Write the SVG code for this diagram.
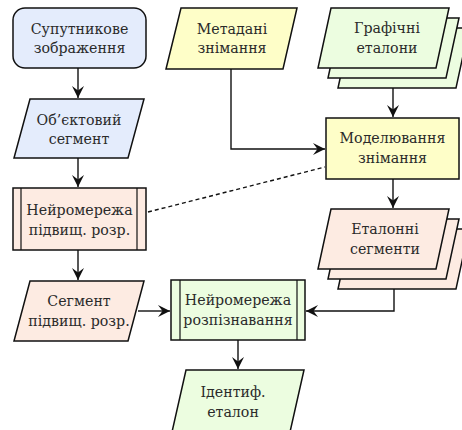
<svg xmlns="http://www.w3.org/2000/svg" width="462" height="430" viewBox="0 0 462 430">
<style>
.n{stroke:#111;stroke-width:1.5;stroke-linejoin:miter}
.blue{fill:#e4ecfc}
.yel{fill:#fefec8}
.grn{fill:#ecfde0}
.pnk{fill:#fdebe2}
text{font-family:'DejaVu Serif',serif;font-size:14.2px;fill:#2a2a2a;text-anchor:middle}
.c{fill:none;stroke:#111;stroke-width:1.4}
.in{stroke-width:1.2}
</style>
<defs>
<marker id="ah" markerUnits="userSpaceOnUse" markerWidth="14" markerHeight="14" refX="12" refY="7" orient="auto">
<path d="M0,1 L12,7 L0,13 L4.5,7 z" fill="#111"/>
</marker>
</defs>
<rect width="462" height="430" fill="#fff"/>

<g id="connectors">
<line class="c" x1="78" y1="68" x2="78" y2="98" marker-end="url(#ah)"/>
<line class="c" x1="78" y1="158" x2="78" y2="187" marker-end="url(#ah)"/>
<line class="c" x1="78" y1="250" x2="78" y2="280" marker-end="url(#ah)"/>
<line class="c" x1="138" y1="311" x2="170" y2="311" marker-end="url(#ah)"/>
<path class="c" d="M231,69 V149 H325" marker-end="url(#ah)"/>
<line class="c" x1="393" y1="88" x2="393" y2="117" marker-end="url(#ah)"/>
<line class="c" x1="393" y1="179" x2="393" y2="208" marker-end="url(#ah)"/>
<path class="c" d="M394,289 V311 H306" marker-end="url(#ah)"/>
<line class="c" x1="238" y1="340" x2="238" y2="369" marker-end="url(#ah)"/>
<line class="c" x1="148" y1="212" x2="325" y2="167" stroke-dasharray="4,3"/>
</g>

<g id="sat">
<rect class="n blue" x="13" y="8" width="133" height="60" rx="12"/>
<text x="79.5" y="34">Супутникове</text>
<text x="79.5" y="53">зображення</text>
</g>

<g id="obj">
<polygon class="n blue" points="30,99 144,99 128,158 14,158"/>
<text x="79" y="125">Об’єктовий</text>
<text x="79" y="144">сегмент</text>
</g>

<g id="nn1">
<rect class="n pnk" x="13" y="188" width="133" height="62"/>
<line class="n in" x1="21" y1="188" x2="21" y2="250" stroke="#6a5a52"/>
<line class="n in" x1="137" y1="188" x2="137" y2="250" stroke="#6a5a52"/>
<text x="79.5" y="215">Нейромережа</text>
<text x="79.5" y="235">підвищ. розр.</text>
</g>

<g id="seg">
<polygon class="n pnk" points="30,281 144,281 128,341 14,341"/>
<text x="79" y="306">Сегмент</text>
<text x="79" y="326">підвищ. розр.</text>
</g>

<g id="meta">
<polygon class="n yel" points="181,8 297,8 283,69 166,69"/>
<text x="232" y="34">Метадані</text>
<text x="232" y="53">знімання</text>
</g>

<g id="graph">
<polygon class="n grn" points="351,28 469,28 456,88 338,88"/>
<polygon class="n grn" points="341,18 459,18 446,78 328,78"/>
<polygon class="n grn" points="331,8 449,8 436,68 318,68"/>
<text x="387" y="33">Графічні</text>
<text x="387" y="53">еталони</text>
</g>

<g id="model">
<rect class="n yel" x="326" y="118" width="133" height="61"/>
<text x="392.5" y="143">Моделювання</text>
<text x="392.5" y="163">знімання</text>
</g>

<g id="etal">
<polygon class="n pnk" points="351,229 469,229 456,289 338,289"/>
<polygon class="n pnk" points="341,219 459,219 446,279 328,279"/>
<polygon class="n pnk" points="331,209 449,209 436,269 318,269"/>
<text x="385" y="234">Еталонні</text>
<text x="385" y="254">сегменти</text>
</g>

<g id="nnr">
<rect class="n grn" x="171" y="280" width="134" height="60"/>
<line class="n in" x1="180" y1="280" x2="180" y2="340"/>
<line class="n in" x1="297" y1="280" x2="297" y2="340"/>
<text x="238" y="305">Нейромережа</text>
<text x="238" y="325">розпізнавання</text>
</g>

<g id="ident">
<polygon class="n grn" points="186,370 304,370 290,432 172,432"/>
<text x="233" y="397">Ідентиф.</text>
<text x="233" y="417">еталон</text>
</g>
</svg>
